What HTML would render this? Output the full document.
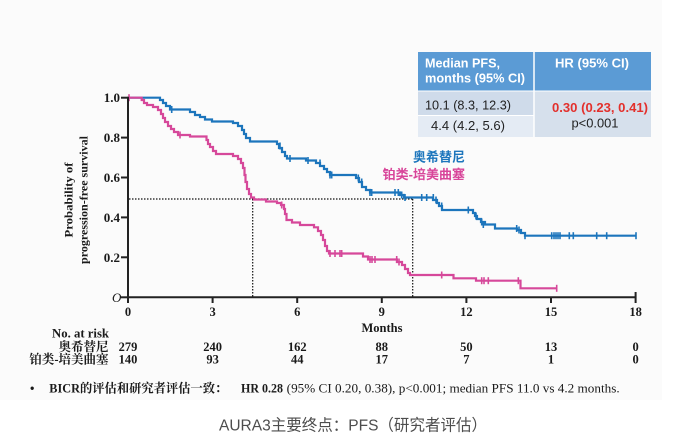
<!DOCTYPE html>
<html>
<head>
<meta charset="utf-8">
<style>
  html,body{margin:0;padding:0;background:#ffffff;}
  svg{display:block;}
</style>
</head>
<body>
<svg width="676" height="440" viewBox="0 0 676 440" xmlns="http://www.w3.org/2000/svg">
  <rect x="0" y="0" width="676" height="440" fill="#ffffff"/>
  <rect x="0" y="0" width="662" height="400" fill="#fbfbfb"/>

  <!-- Table -->
  <rect x="418" y="52" width="233" height="39" fill="#5b9bd5"/>
  <rect x="418" y="91" width="116" height="24.5" fill="#cfdbea"/>
  <rect x="418" y="115.5" width="116" height="21.5" fill="#e4ebf4"/>
  <rect x="534" y="91" width="117" height="46" fill="#d6e0ec"/>
  <line x1="534" y1="52" x2="534" y2="137" stroke="#ffffff" stroke-width="1.5"/>
  <line x1="418" y1="91" x2="651" y2="91" stroke="#ffffff" stroke-width="1"/>
  <line x1="418" y1="115.5" x2="534" y2="115.5" stroke="#ffffff" stroke-width="1"/>
  <g font-family="'Liberation Sans', Arial, sans-serif" font-size="12.5">
    <text x="425" y="67.5" fill="#ffffff" font-weight="bold" textLength="75" lengthAdjust="spacingAndGlyphs">Median PFS,</text>
    <text x="425" y="82.5" fill="#ffffff" font-weight="bold" textLength="100" lengthAdjust="spacingAndGlyphs">months (95% CI)</text>
    <text x="592" y="67.5" fill="#ffffff" font-weight="bold" text-anchor="middle" textLength="74" lengthAdjust="spacingAndGlyphs">HR (95% CI)</text>
    <text x="425" y="109.5" fill="#222222" textLength="86" lengthAdjust="spacingAndGlyphs">10.1 (8.3, 12.3)</text>
    <text x="431" y="130" fill="#222222" textLength="74" lengthAdjust="spacingAndGlyphs">4.4 (4.2, 5.6)</text>
    <text x="600" y="112" fill="#e3302c" font-weight="bold" text-anchor="middle" textLength="96" lengthAdjust="spacingAndGlyphs">0.30 (0.23, 0.41)</text>
    <text x="595" y="127.5" fill="#222222" text-anchor="middle" textLength="47" lengthAdjust="spacingAndGlyphs">p&lt;0.001</text>
  </g>

  <!-- Legend -->
  <g font-family="'Liberation Sans', 'Noto Sans CJK SC', sans-serif" font-size="13" font-weight="bold" text-anchor="end">
    <text x="465" y="161.5" fill="#1c75bc">奥希替尼</text>
    <text x="465" y="179" fill="#d8459a">铂类-培美曲塞</text>
  </g>

  <!-- Dotted median lines -->
  <g stroke="#111111" stroke-width="1.2" stroke-dasharray="1.5 1.5" fill="none">
    <line x1="129" y1="199" x2="412.7" y2="199"/>
    <line x1="252.7" y1="199" x2="252.7" y2="297"/>
    <line x1="412.7" y1="199" x2="412.7" y2="297"/>
  </g>

  <!-- Curves -->
  <path fill="none" stroke="#1c75bc" stroke-width="2.2" d="M128,97.7 H160 V100 H163 V103 H166 V106 H170 V109.5 H190 V112 H195 V115 H200 V117 H205 V119.5 H212 V121.5 H233 V123 H238 V126 H242 V130 H244 V134 H246 V138 H250 V141.5 H277 V144 H279 V148 H282 V152 H285 V156 H287 V158.5 H306 V160.5 H316 V163 H320 V166 H324 V169 H327 V172 H330 V175 H356 V178 H359 V182 H362 V187 H366 V190 H370 V192.5 H400 V195 H404 V197.5 H433 V200 H437 V203 H439 V206 H442 V210 H473 V213 H475 V216 H477 V219 H481 V222 H485 V224.5 H495 V228.5 H517 V230 H521 V233 H525 V235.7 H636"/>
  <g stroke="#1c75bc" stroke-width="1.6">
    <line x1="171.7" y1="106" x2="171.7" y2="113"/>
    <line x1="280" y1="142.5" x2="280" y2="149.5"/>
    <line x1="290" y1="155" x2="290" y2="162"/>
    <line x1="308" y1="157" x2="308" y2="164"/>
    <line x1="320" y1="159.5" x2="320" y2="166.5"/>
    <line x1="330" y1="171.5" x2="330" y2="178.5"/>
    <line x1="331.7" y1="171.5" x2="331.7" y2="178.5"/>
    <line x1="358.3" y1="174.5" x2="358.3" y2="181.5"/>
    <line x1="361.7" y1="178.5" x2="361.7" y2="185.5"/>
    <line x1="370" y1="189" x2="370" y2="196"/>
    <line x1="371.7" y1="189" x2="371.7" y2="196"/>
    <line x1="395" y1="189" x2="395" y2="196"/>
    <line x1="398.3" y1="189" x2="398.3" y2="196"/>
    <line x1="401.7" y1="191.5" x2="401.7" y2="198.5"/>
    <line x1="405" y1="194" x2="405" y2="201"/>
    <line x1="421.7" y1="194" x2="421.7" y2="201"/>
    <line x1="426.7" y1="194" x2="426.7" y2="201"/>
    <line x1="433.3" y1="194" x2="433.3" y2="201"/>
    <line x1="436" y1="196.5" x2="436" y2="203.5"/>
    <line x1="441.7" y1="202.5" x2="441.7" y2="209.5"/>
    <line x1="468.3" y1="206.5" x2="468.3" y2="213.5"/>
    <line x1="476" y1="212.5" x2="476" y2="219.5"/>
    <line x1="481.7" y1="218.5" x2="481.7" y2="225.5"/>
    <line x1="483.3" y1="221" x2="483.3" y2="228"/>
    <line x1="516.7" y1="225" x2="516.7" y2="232"/>
    <line x1="519" y1="226.5" x2="519" y2="233.5"/>
    <line x1="525" y1="232.2" x2="525" y2="239.2"/>
    <line x1="551.7" y1="232.2" x2="551.7" y2="239.2"/>
    <line x1="554" y1="232.2" x2="554" y2="239.2"/>
    <line x1="556" y1="232.2" x2="556" y2="239.2"/>
    <line x1="558" y1="232.2" x2="558" y2="239.2"/>
    <line x1="560" y1="232.2" x2="560" y2="239.2"/>
    <line x1="569.3" y1="232.2" x2="569.3" y2="239.2"/>
    <line x1="573.3" y1="232.2" x2="573.3" y2="239.2"/>
    <line x1="596.7" y1="232.2" x2="596.7" y2="239.2"/>
    <line x1="606.7" y1="232.2" x2="606.7" y2="239.2"/>
    <line x1="636" y1="232.2" x2="636" y2="239.2"/>
  </g>

  <path fill="none" stroke="#d6489a" stroke-width="2.2" d="M128,97.7 H141.7 V100 H144 V103 H147 V105 H153 V107 H158 V110 H161 V114 H163 V118 H165 V122 H168 V126 H171 V129 H174 V132 H178 V135 H190 V136.5 H206.5 V140 H208 V144 H210 V147 H213 V151 H216 V154 H233 V156 H238 V159 H241 V163 H243 V168 H244.5 V175 H245.5 V182 H247 V189 H249 V194 H251 V197.5 H254 V199.5 H266 V201.5 H277 V203 H281 V205 H284 V209 H285 V214 H286.5 V220 H292 V222.5 H300 V225 H314 V227.3 H318 V231 H321 V235 H323 V240 H325 V246 H327 V251 H329 V253.5 H363 V256.5 H368 V259.5 H397 V262 H402 V265 H405 V269 H408 V273 H410 V275 H453.5 V278.3 H476 V280.7 H520.5 V288.3 H556.7"/>
  <g stroke="#d6489a" stroke-width="1.6">
    <line x1="129" y1="94.2" x2="129" y2="101.2"/>
    <line x1="180" y1="131.5" x2="180" y2="138.5"/>
    <line x1="281.7" y1="201.5" x2="281.7" y2="208.5"/>
    <line x1="330" y1="250" x2="330" y2="257"/>
    <line x1="335" y1="250" x2="335" y2="257"/>
    <line x1="340" y1="250" x2="340" y2="257"/>
    <line x1="341.7" y1="250" x2="341.7" y2="257"/>
    <line x1="370" y1="256" x2="370" y2="263"/>
    <line x1="372" y1="256" x2="372" y2="263"/>
    <line x1="375" y1="256" x2="375" y2="263"/>
    <line x1="396.7" y1="256" x2="396.7" y2="263"/>
    <line x1="399" y1="258.5" x2="399" y2="265.5"/>
    <line x1="441.7" y1="271.5" x2="441.7" y2="278.5"/>
    <line x1="481.7" y1="277.2" x2="481.7" y2="284.2"/>
    <line x1="484" y1="277.2" x2="484" y2="284.2"/>
    <line x1="488.3" y1="277.2" x2="488.3" y2="284.2"/>
    <line x1="518.3" y1="277.2" x2="518.3" y2="284.2"/>
    <line x1="556.7" y1="284.8" x2="556.7" y2="291.8"/>
  </g>

  <!-- Axes -->
  <g stroke="#222222" stroke-width="2" fill="none">
    <line x1="128" y1="96.7" x2="128" y2="298.3"/>
    <line x1="127" y1="297.3" x2="636.5" y2="297.3"/>
    <line x1="121" y1="97.7" x2="128" y2="97.7"/>
    <line x1="121" y1="137.6" x2="128" y2="137.6"/>
    <line x1="121" y1="177.5" x2="128" y2="177.5"/>
    <line x1="121" y1="217.4" x2="128" y2="217.4"/>
    <line x1="121" y1="257.3" x2="128" y2="257.3"/>
    <line x1="121" y1="297.3" x2="128" y2="297.3"/>
    <line x1="128" y1="297.3" x2="128" y2="303"/>
    <line x1="212.6" y1="297.3" x2="212.6" y2="303"/>
    <line x1="297.2" y1="297.3" x2="297.2" y2="303"/>
    <line x1="381.8" y1="297.3" x2="381.8" y2="303"/>
    <line x1="466.4" y1="297.3" x2="466.4" y2="303"/>
    <line x1="551" y1="297.3" x2="551" y2="303"/>
    <line x1="635.6" y1="292" x2="635.6" y2="303"/>
  </g>

  <!-- Axis labels -->
  <g font-family="'Liberation Serif', 'Noto Serif CJK SC', serif" font-weight="bold" fill="#1a1a1a">
    <g font-size="13" text-anchor="end">
      <text x="120" y="102.2">1.0</text>
      <text x="120" y="142.1">0.8</text>
      <text x="120" y="182">0.6</text>
      <text x="120" y="221.9">0.4</text>
      <text x="120" y="261.8">0.2</text>
    </g>
    <text x="112" y="301.8" font-size="13" font-style="italic" font-weight="normal">O</text>
    <g font-size="12.5" text-anchor="middle">
      <text x="128" y="316">0</text>
      <text x="212.6" y="316">3</text>
      <text x="297.2" y="316">6</text>
      <text x="381.8" y="316">9</text>
      <text x="466.4" y="316">12</text>
      <text x="551" y="316">15</text>
      <text x="635.6" y="316">18</text>
      <text x="382" y="332" textLength="41" lengthAdjust="spacingAndGlyphs">Months</text>
    </g>
    <g font-size="12" text-anchor="middle">
      <text transform="translate(72.5,200) rotate(-90)" textLength="75" lengthAdjust="spacingAndGlyphs">Probability of</text>
      <text transform="translate(87.5,200) rotate(-90)" textLength="128" lengthAdjust="spacingAndGlyphs">progression-free survival</text>
    </g>

    <!-- Risk table -->
    <text x="109" y="337.5" font-size="12.5" text-anchor="end" textLength="57" lengthAdjust="spacingAndGlyphs">No. at risk</text>
    <text x="108.5" y="351" font-size="12.5" text-anchor="end">奥希替尼</text>
    <text x="108.5" y="363.5" font-size="12.5" text-anchor="end">铂类-培美曲塞</text>
    <g font-size="12.5" text-anchor="middle">
      <text x="128" y="351">279</text>
      <text x="212.6" y="351">240</text>
      <text x="297.2" y="351">162</text>
      <text x="381.8" y="351">88</text>
      <text x="466.4" y="351">50</text>
      <text x="551" y="351">13</text>
      <text x="635.6" y="351">0</text>
      <text x="128" y="363.5">140</text>
      <text x="212.6" y="363.5">93</text>
      <text x="297.2" y="363.5">44</text>
      <text x="381.8" y="363.5">17</text>
      <text x="466.4" y="363.5">7</text>
      <text x="551" y="363.5">1</text>
      <text x="635.6" y="363.5">0</text>
    </g>

    <!-- Footnote -->
    <text x="30" y="392.5" font-size="12.5">•</text>
    <text x="49.3" y="392.5" font-size="12.5" textLength="178" lengthAdjust="spacingAndGlyphs">BICR的评估和研究者评估一致：</text>
    <text x="241" y="392.5" font-size="12.5" textLength="42" lengthAdjust="spacingAndGlyphs">HR 0.28</text>
    <text x="286.7" y="392.5" font-size="12.5" font-weight="normal" textLength="333" lengthAdjust="spacingAndGlyphs">(95% CI 0.20, 0.38), p&lt;0.001; median PFS 11.0 vs 4.2 months.</text>
  </g>

  <!-- Caption -->
  <text x="219" y="430.5" font-family="'Liberation Sans', 'Noto Sans CJK SC', sans-serif" font-size="16" fill="#4d4d4d" textLength="268" lengthAdjust="spacingAndGlyphs">AURA3主要终点：PFS（研究者评估）</text>
</svg>
</body>
</html>
